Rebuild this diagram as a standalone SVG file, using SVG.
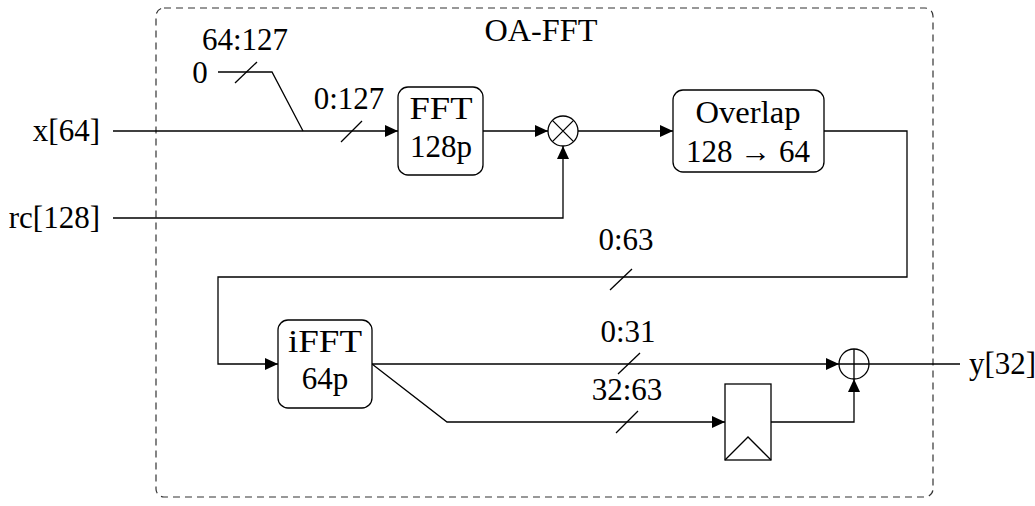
<svg xmlns="http://www.w3.org/2000/svg" width="1035" height="506" viewBox="0 0 1035 506">
<style>
text{font-size:31px;fill:#000}
.c{text-anchor:middle}
.e{text-anchor:end}
.w{fill:none;stroke:#000;stroke-width:1.3}
.box{fill:#fff;stroke:#000;stroke-width:1.3}
.frame{fill:none;stroke:#333;stroke-width:1.2;stroke-dasharray:7,5}
</style>
<defs>
<marker id="arr" markerUnits="userSpaceOnUse" markerWidth="14" markerHeight="12" refX="13" refY="6" orient="auto">
<path d="M0,0 L13,6 L0,12 z" fill="#000"/>
</marker>
</defs>
<g font-family="'Liberation Serif', 'Times New Roman', 'DejaVu Serif', serif">
<rect class="frame" x="156" y="8" width="777" height="489" rx="8"/>
<text class="c" x="541" y="41" textLength="113" lengthAdjust="spacingAndGlyphs">OA-FFT</text>
<g id="connectors">
<path class="w" d="M113,131 H398" marker-end="url(#arr)"/>
<path class="w" d="M218,72 H272 L303,131"/>
<path class="w" d="M483,131 H548" marker-end="url(#arr)"/>
<path class="w" d="M113,218 H563 V146" marker-end="url(#arr)"/>
<path class="w" d="M578,131 H673" marker-end="url(#arr)"/>
<path class="w" d="M824,131 H907 V277 H218 V364 H278" marker-end="url(#arr)"/>
<path class="w" d="M372,364 H839" marker-end="url(#arr)"/>
<path class="w" d="M372,364 L447,422 H725" marker-end="url(#arr)"/>
<path class="w" d="M771,422 H854 V379" marker-end="url(#arr)"/>
<path class="w" d="M869,364 H960"/>
<g class="w">
<line x1="235" y1="83" x2="257" y2="62"/>
<line x1="341" y1="142" x2="362" y2="121"/>
<line x1="610" y1="290" x2="632" y2="269"/>
<line x1="618" y1="374" x2="640" y2="353"/>
<line x1="616" y1="433" x2="638" y2="411"/>
</g>
<text class="c" x="245" y="50">64:127</text>
<text class="c" x="349" y="109">0:127</text>
<text class="c" x="626" y="250">0:63</text>
<text class="c" x="628" y="342">0:31</text>
<text class="c" x="627" y="400">32:63</text>
</g>
<g id="x-in"><text class="e" x="100" y="141">x[64]</text></g>
<g id="rc-in"><text class="e" x="100" y="228">rc[128]</text></g>
<g id="zero"><text class="c" x="200" y="83">0</text></g>
<g id="fft">
<rect class="box" x="398" y="87" width="85" height="88" rx="10"/>
<text class="c" x="441" y="119" textLength="63" lengthAdjust="spacingAndGlyphs">FFT</text>
<text class="c" x="441" y="157">128p</text>
</g>
<g id="mult">
<circle class="box" cx="563" cy="131" r="15"/>
<path class="w" d="M552.4,120.4 L573.6,141.6 M573.6,120.4 L552.4,141.6"/>
</g>
<g id="overlap">
<rect class="box" x="673" y="90" width="151" height="82" rx="10"/>
<text class="c" x="748" y="123" textLength="105" lengthAdjust="spacingAndGlyphs">Overlap</text>
<text class="c" x="748" y="162">128 → 64</text>
</g>
<g id="ifft">
<rect class="box" x="278" y="320" width="94" height="88" rx="10"/>
<text class="c" x="325" y="352" textLength="74" lengthAdjust="spacingAndGlyphs">iFFT</text>
<text class="c" x="325" y="389">64p</text>
</g>
<g id="register">
<rect class="box" x="725" y="384" width="46" height="76"/>
<path class="w" d="M725,460 L748,437 L771,460"/>
</g>
<g id="adder">
<circle class="box" cx="854" cy="364" r="15"/>
<path class="w" d="M839,364 H869 M854,349 V379"/>
</g>
<g id="y-out"><text x="969" y="374">y[32]</text></g>
</g>
</svg>
